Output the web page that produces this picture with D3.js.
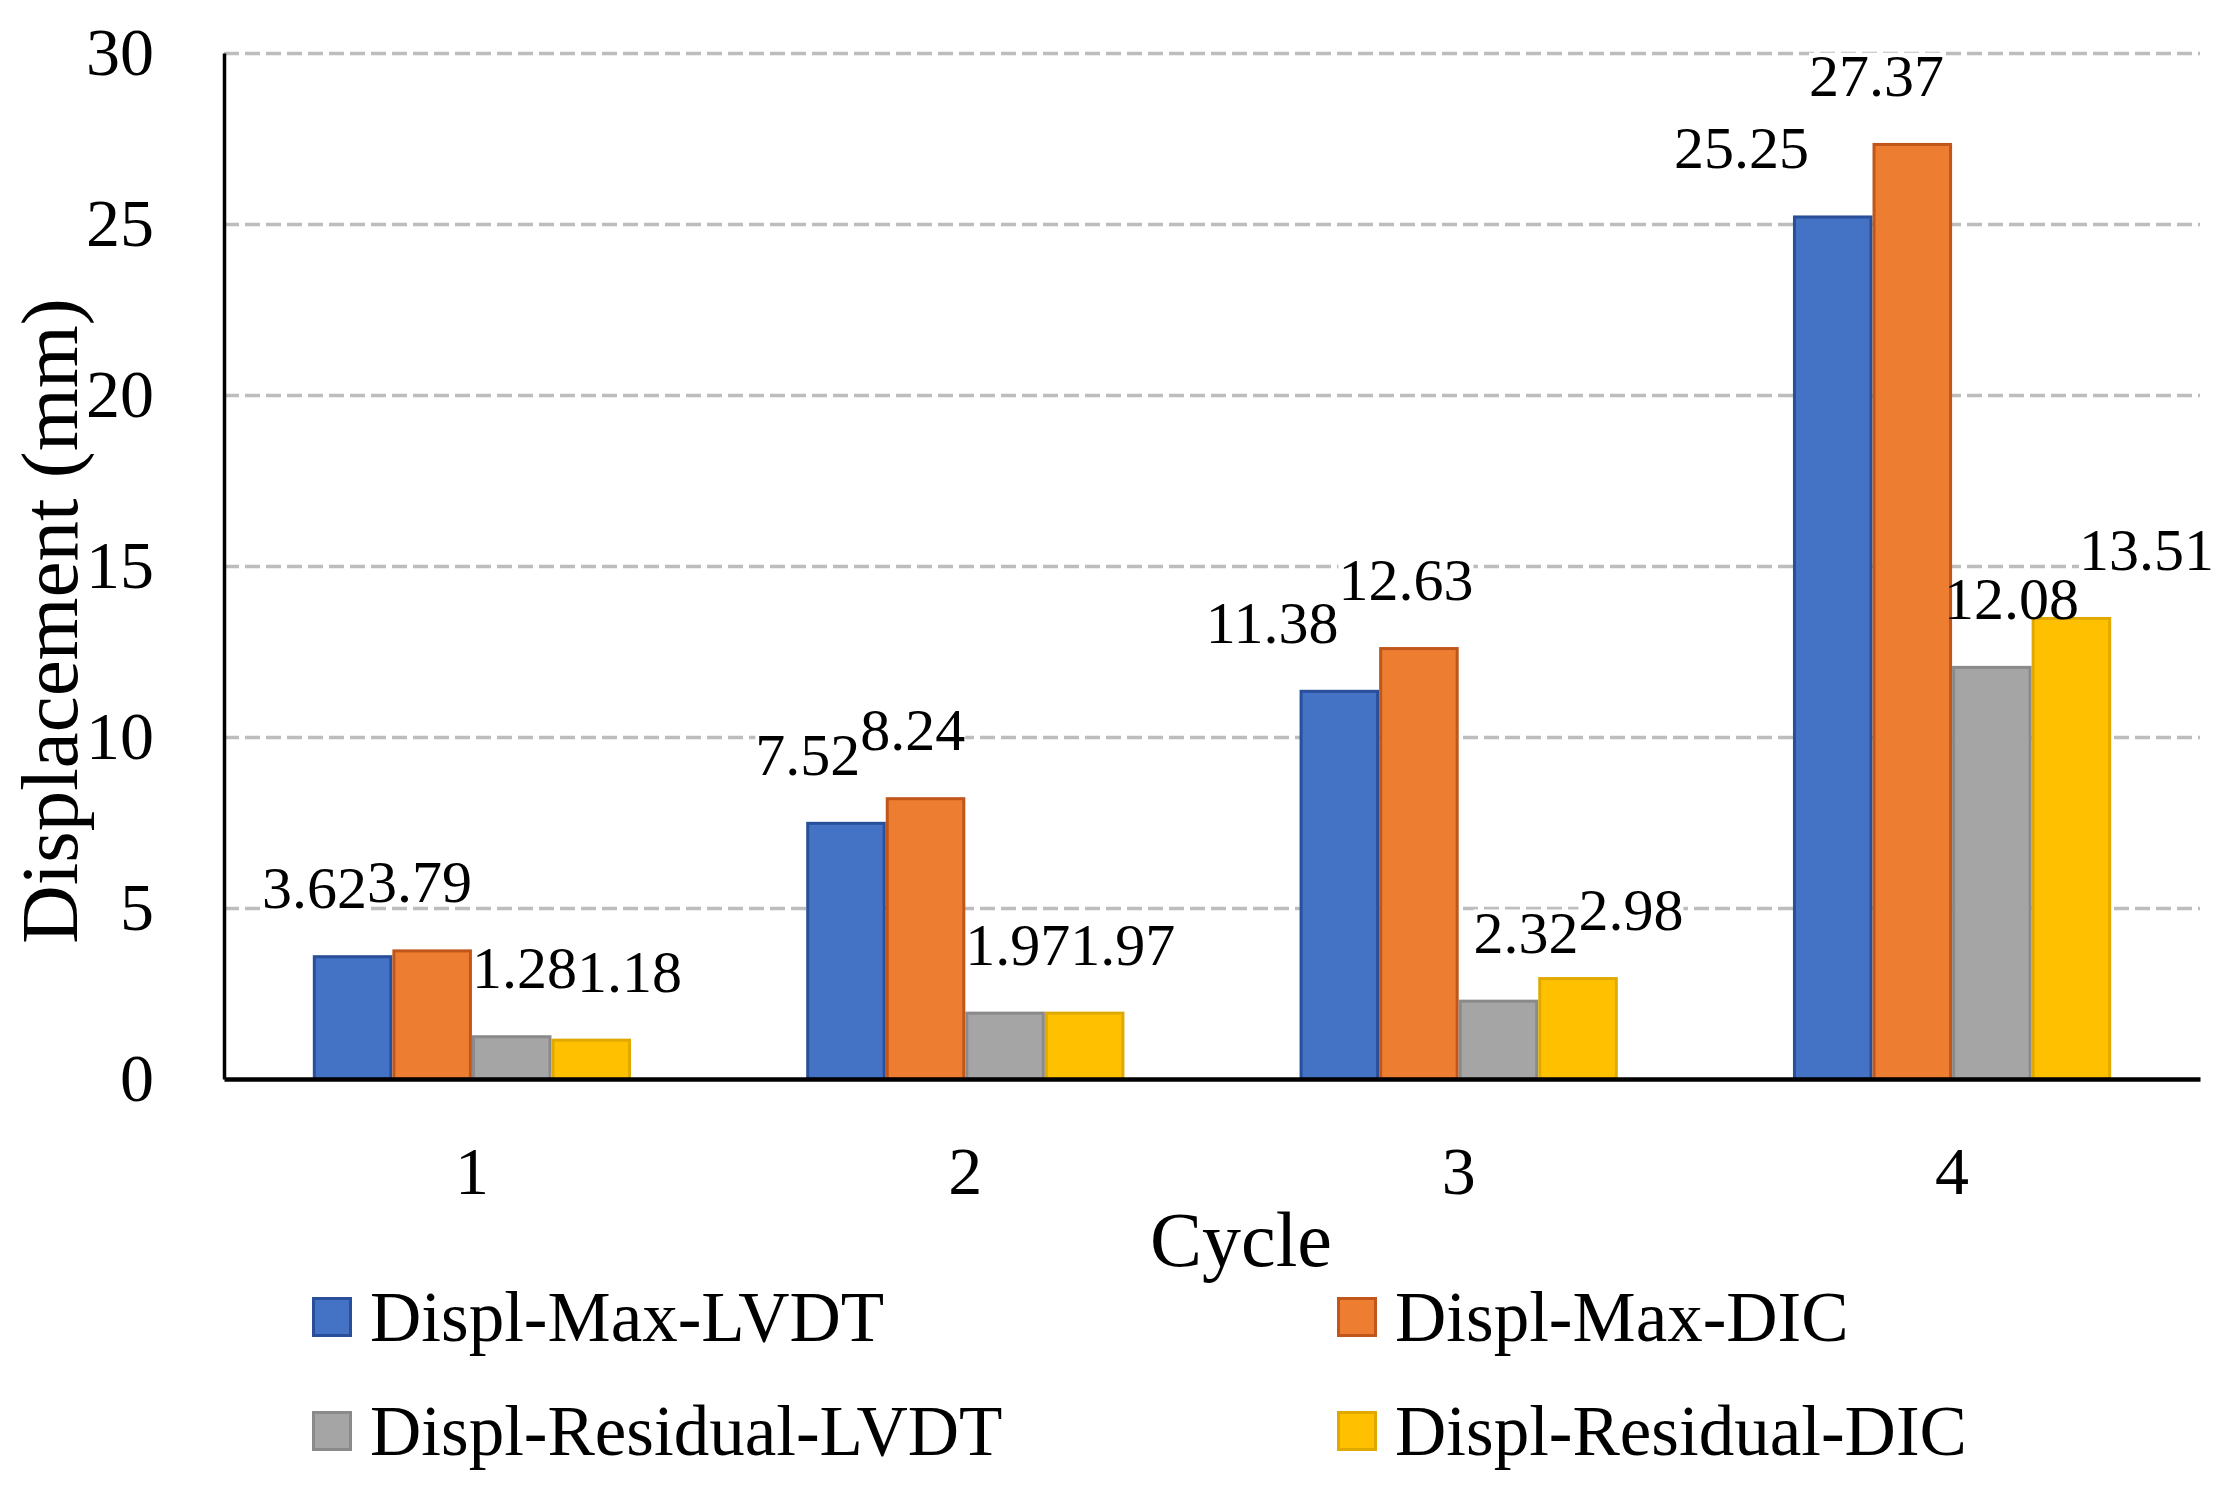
<!DOCTYPE html>
<html>
<head>
<meta charset="utf-8">
<script src="https://cdn.jsdelivr.net/npm/d3@7"></script>
<style>
  body { margin: 0; background: #fff; }
  text { font-family: "Palatino Linotype", "Book Antiqua", Palatino, "Liberation Serif", serif; fill: #000; }
</style>
</head>
<body>
<svg class="chart-svg"></svg>
<script>
const cycles = ["1", "2", "3", "4"];
const seriesNames = ["Displ-Max-LVDT", "Displ-Max-DIC", "Displ-Residual-LVDT", "Displ-Residual-DIC"];
const maxLVDT = [3.62, 7.52, 11.38, 25.25];
const maxDIC = [3.79, 8.24, 12.63, 27.37];
const residualLVDT = [1.28, 1.97, 2.32, 12.08];
const residualDIC = [1.18, 1.97, 2.98, 13.51];
const yTicks = [0, 5, 10, 15, 20, 25, 30];

const fills = ["#4472C4", "#ED7D31", "#A5A5A5", "#FFC000"];
const strokes = ["#2A4F9A", "#C0561A", "#8A8A8A", "#E0A900"];

function drawChart() {
  const W = 2230, H = 1491;
  const left = 224, top = 53, width = 1976, height = 1026;
  const values = [maxLVDT, maxDIC, residualLVDT, residualDIC];

  const svg = d3.select(".chart-svg").attr("width", W).attr("height", H);
  const chart = svg.append("g").attr("transform", `translate(${left}, ${top})`);

  const x0 = d3.scaleBand().domain(cycles).range([0, width]).paddingInner(0.355).paddingOuter(0.18);
  const x1 = d3.scaleBand().domain(seriesNames).range([0, x0.bandwidth()]);
  const yScale = d3.scaleLinear().domain([0, 30]).range([height, 0]);

  // grid
  chart.append("g")
    .attr("class", "grid")
    .call(d3.axisLeft(yScale).tickValues(yTicks.slice(1)).tickSize(-width).tickFormat(""))
    .call((g) => g.select(".domain").remove())
    .selectAll("line")
    .attr("stroke", "#BDBDBD")
    .attr("stroke-width", 3.5)
    .attr("stroke-dasharray", "15,6");

  // y axis
  chart.append("g")
    .call(d3.axisLeft(yScale).tickValues(yTicks).tickSize(0).tickPadding(70))
    .call((g) => g.select(".domain").attr("stroke", "#000").attr("stroke-width", 3.5))
    .selectAll("text")
    .style("font-size", "68px");

  const rows = cycles.map((c, i) => ({
    cycle: c,
    items: seriesNames.map((s, k) => ({ series: s, k: k, value: values[k][i] }))
  }));

  const groups = chart.selectAll(".cycle").data(rows).enter().append("g")
    .attr("class", "cycle")
    .attr("transform", (d) => `translate(${x0(d.cycle)},0)`);

  // white label backgrounds (hide the grid), bars, then label text on top
  const bgLayer = groups.append("g");
  const barLayer = groups.append("g");
  const textLayer = groups.append("g");
  const fontSize = 60;

  barLayer.selectAll("rect").data((d) => d.items).enter().append("rect")
    .attr("x", (d) => x1(d.series) + 1.5)
    .attr("y", (d) => yScale(d.value) + 1.5)
    .attr("width", x1.bandwidth() - 3)
    .attr("height", (d) => height - yScale(d.value) - 1.5)
    .attr("fill", (d) => fills[d.k])
    .attr("stroke", (d) => strokes[d.k])
    .attr("stroke-width", 3);

  textLayer.selectAll("text").data((d) => d.items).enter().append("text")
    .attr("text-anchor", "middle")
    .style("font-size", fontSize + "px")
    .text((d) => d.value.toFixed(2));

  // spread labels of a group so they sit side by side, kept inside the plot
  groups.each(function (row) {
    const g = d3.select(this);
    const texts = g.selectAll("text");
    const ws = [];
    texts.each(function () { ws.push(this.getComputedTextLength()); });
    const cs = row.items.map((d) => x1(d.series) + x1.bandwidth() / 2);
    for (let it = 0; it < 200; it++) {
      for (let i = 0; i < cs.length - 1; i++) {
        const ov = cs[i] + ws[i] / 2 - (cs[i + 1] - ws[i + 1] / 2);
        if (ov > 0.01) { cs[i] -= ov / 2; cs[i + 1] += ov / 2; }
      }
    }
    const limit = width + 14 - x0(row.cycle);
    const over = cs[cs.length - 1] + ws[ws.length - 1] / 2 - limit;
    if (over > 0) for (let i = 0; i < cs.length; i++) cs[i] -= over;

    texts.attr("x", (d, i) => cs[i]).attr("y", (d) => yScale(d.value) - 47);
    g.select("g").selectAll("rect").data(row.items).enter().append("rect")
      .attr("fill", "#fff")
      .attr("x", (d, i) => cs[i] - ws[i] / 2)
      .attr("y", (d) => yScale(d.value) - 47 - fontSize * 0.72)
      .attr("width", (d, i) => ws[i])
      .attr("height", fontSize * 0.78);
  });

  // x axis
  chart.append("g")
    .attr("transform", `translate(0, ${height})`)
    .call(d3.axisBottom(x0).tickSize(0).tickPadding(67))
    .call((g) => g.select(".domain").attr("stroke", "#000").attr("stroke-width", 4.5))
    .selectAll("text")
    .style("font-size", "68px");

  // axis titles
  svg.append("text")
    .attr("text-anchor", "middle")
    .attr("transform", "translate(77, 621) rotate(-90)")
    .style("font-size", "81px")
    .text("Displacement (mm)");

  svg.append("text")
    .attr("text-anchor", "middle")
    .attr("x", 1241)
    .attr("y", 1266)
    .style("font-size", "78px")
    .text("Cycle");

  // legend
  const legendX = [312, 1337];
  const legendY = [1317, 1431];
  const legend = svg.selectAll(".legend").data(seriesNames).enter().append("g")
    .attr("class", "legend")
    .attr("transform", (d, i) => `translate(${legendX[i % 2]}, ${legendY[Math.floor(i / 2)]})`);
  legend.append("rect")
    .attr("x", 1.5).attr("y", -18.5)
    .attr("width", 37).attr("height", 37)
    .attr("fill", (d, i) => fills[i])
    .attr("stroke", (d, i) => strokes[i])
    .attr("stroke-width", 3);
  legend.append("text")
    .attr("x", 58)
    .attr("y", 24)
    .style("font-size", "71px")
    .text((d) => d);
}

drawChart();
</script>
</body>
</html>
